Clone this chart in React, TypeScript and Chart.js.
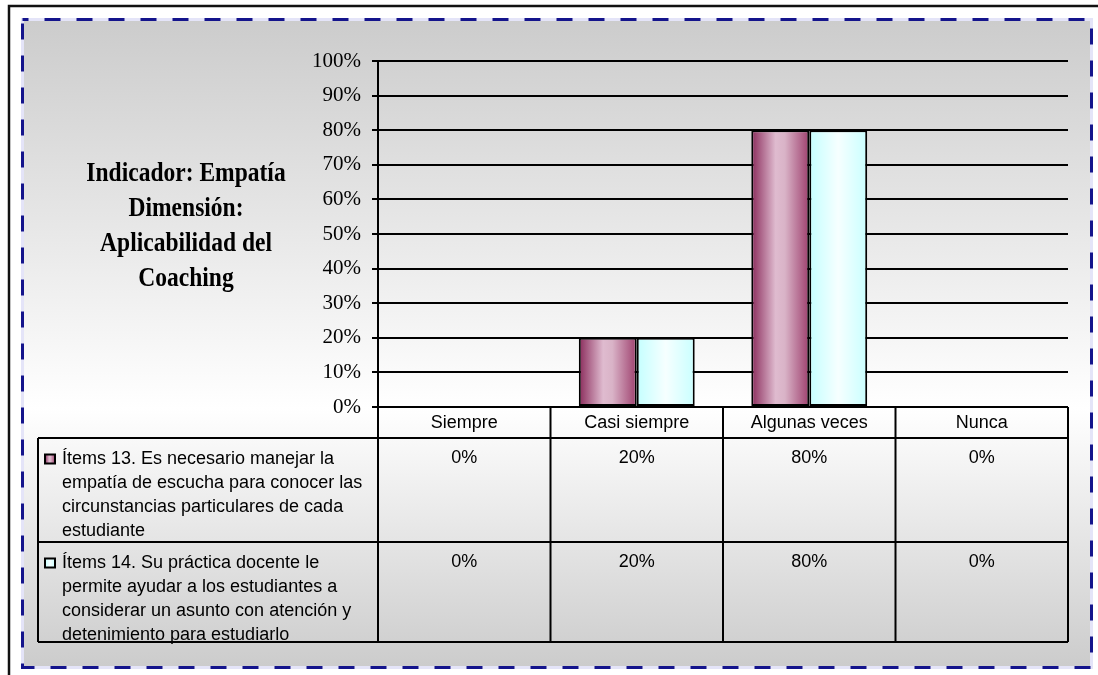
import React, { useEffect, useRef } from 'react';
import { Chart, registerables } from 'chart.js';

Chart.register(...registerables);

const categories = ['Siempre', 'Casi siempre', 'Algunas veces', 'Nunca'];
const item13Values = [0, 20, 80, 0];
const item14Values = [0, 20, 80, 0];
const seriesLabels = [
  'Ítems 13. Es necesario manejar la empatía de escucha para conocer las circunstancias particulares de cada estudiante',
  'Ítems 14. Su práctica docente le permite ayudar a los estudiantes a considerar un asunto con atención y detenimiento para estudiarlo',
];
const titleLines = ['Indicador: Empatía', 'Dimensión:', 'Aplicabilidad del', 'Coaching'];
const yMax = 100;
const yStep = 10;

const W = 1098;
const H = 675;
const SERIF = '"Liberation Serif", "Times New Roman", serif';
const SANS = '"Liberation Sans", Arial, sans-serif';
const CAT_PCT = 0.672;

function barGradient(ctx: CanvasRenderingContext2D, x0: number, x1: number, s: number) {
  const g = ctx.createLinearGradient(x0, 0, x1, 0);
  if (s === 0) {
    g.addColorStop(0, '#8a2b5b');
    g.addColorStop(0.42, '#dfbbcf');
    g.addColorStop(0.58, '#d9b3c7');
    g.addColorStop(1, '#9e406e');
  } else {
    g.addColorStop(0, '#c4ffff');
    g.addColorStop(0.5, '#f6ffff');
    g.addColorStop(1, '#c9ffff');
  }
  return g;
}

function barBg(s: number) {
  return (c: any) => {
    const fallback = s === 0 ? '#c07898' : '#e0ffff';
    const chart = c.chart;
    const xs = chart.scales && chart.scales.x;
    if (!xs || c.dataIndex === undefined) return fallback;
    const center = xs.getPixelForValue(c.dataIndex);
    const catW = xs.width / categories.length;
    if (!isFinite(center) || !isFinite(catW) || catW <= 0) return fallback;
    const bw = (catW * CAT_PCT) / 2;
    const x0 = s === 0 ? center - bw : center;
    return barGradient(chart.ctx, x0, x0 + bw, s);
  };
}

function wrap(ctx: CanvasRenderingContext2D, text: string, maxW: number) {
  const words = text.split(' ');
  const lines: string[] = [];
  let cur = '';
  for (const w of words) {
    const t = cur ? cur + ' ' + w : w;
    if (ctx.measureText(t).width > maxW && cur) {
      lines.push(cur);
      cur = w;
    } else cur = t;
  }
  if (cur) lines.push(cur);
  return lines;
}

const framePlugin = {
  id: 'frame',
  beforeDraw(chart: any) {
    const ctx: CanvasRenderingContext2D = chart.ctx;
    ctx.save();
    ctx.fillStyle = '#ffffff';
    ctx.fillRect(0, 0, W, H);
    ctx.strokeStyle = '#111111';
    ctx.lineWidth = 2.5;
    ctx.beginPath();
    ctx.moveTo(9, H + 5);
    ctx.lineTo(9, 6);
    ctx.lineTo(W + 5, 6);
    ctx.stroke();
    const g = ctx.createLinearGradient(0, 21, 0, 666);
    g.addColorStop(0, '#cccccc');
    g.addColorStop(0.6, '#ffffff');
    g.addColorStop(1, '#cccccc');
    ctx.fillStyle = g;
    ctx.fillRect(24, 21, 1066, 645);
    ctx.lineWidth = 3;
    ctx.strokeStyle = '#e4e4f8';
    ctx.strokeRect(22.5, 19.5, 1069, 648);
    ctx.setLineDash([16, 16]);
    ctx.lineDashOffset = 10;
    ctx.strokeStyle = '#14148c';
    ctx.strokeRect(22.5, 19.5, 1069, 648);
    ctx.restore();
  },
  afterDraw(chart: any) {
    const ctx: CanvasRenderingContext2D = chart.ctx;
    const xs = chart.scales.x;
    const area = chart.chartArea;
    const catW = xs.width / categories.length;
    const x0 = 38;
    const headerTop = area.bottom;
    const headerBottom = headerTop + 31;
    const row1Bottom = headerBottom + 104;
    const row2Bottom = row1Bottom + 100;
    const rowTops = [headerBottom, row1Bottom];
    ctx.save();
    ctx.strokeStyle = '#000';
    ctx.lineWidth = 2;
    ctx.beginPath();
    ctx.moveTo(area.left, headerTop);
    ctx.lineTo(area.right, headerTop);
    for (const y of [headerBottom, row1Bottom, row2Bottom]) {
      ctx.moveTo(x0, y);
      ctx.lineTo(area.right, y);
    }
    ctx.moveTo(x0, headerBottom);
    ctx.lineTo(x0, row2Bottom);
    for (let i = 0; i < categories.length; i++) {
      const bx = xs.getPixelForValue(i) - catW / 2;
      ctx.moveTo(bx, headerTop);
      ctx.lineTo(bx, row2Bottom);
    }
    ctx.moveTo(area.right, headerTop);
    ctx.lineTo(area.right, row2Bottom);
    ctx.stroke();

    ctx.fillStyle = '#000';
    ctx.font = '18px ' + SANS;
    ctx.textAlign = 'center';
    ctx.textBaseline = 'middle';
    categories.forEach((c, i) => {
      ctx.fillText(c, xs.getPixelForValue(i), headerTop + 16);
    });
    const series = [item13Values, item14Values];
    series.forEach((vals, s) => {
      vals.forEach((v, i) => {
        ctx.fillText(v + '%', xs.getPixelForValue(i), rowTops[s] + 20);
      });
    });
    ctx.textAlign = 'left';
    seriesLabels.forEach((lab, s) => {
      const lines = wrap(ctx, lab, 305);
      lines.forEach((ln, k) => {
        ctx.fillText(ln, 62, rowTops[s] + 21 + k * 24);
      });
      const mx = 45, my = rowTops[s] + 16.5, mw = 10, mh = 9;
      ctx.fillStyle = barGradient(ctx, mx, mx + mw, s);
      ctx.fillRect(mx, my, mw, mh);
      ctx.strokeStyle = '#000';
      ctx.lineWidth = 2;
      ctx.strokeRect(mx, my, mw, mh);
      ctx.fillStyle = '#000';
    });

    ctx.font = 'bold 28px ' + SERIF;
    ctx.textAlign = 'center';
    ctx.textBaseline = 'middle';
    titleLines.forEach((t, k) => {
      ctx.save();
      ctx.translate(186, 174 + k * 34.8);
      ctx.scale(0.84, 1);
      ctx.fillText(t, 0, 0);
      ctx.restore();
    });
    ctx.restore();
  },
};

export default function App() {
  const ref = useRef<HTMLCanvasElement | null>(null);
  useEffect(() => {
    if (!ref.current) return;
    const chart = new Chart(ref.current, {
      type: 'bar',
      data: {
        labels: categories,
        datasets: [
          {
            label: seriesLabels[0],
            data: item13Values,
            backgroundColor: barBg(0),
            borderColor: '#000',
            borderWidth: 2,
            borderSkipped: false,
          },
          {
            label: seriesLabels[1],
            data: item14Values,
            backgroundColor: barBg(1),
            borderColor: '#000',
            borderWidth: 2,
            borderSkipped: false,
          },
        ],
      },
      options: {
        responsive: false,
        animation: false,
        devicePixelRatio: 1,
        layout: { padding: { top: 61, right: 30, bottom: 268, left: 0 } },
        datasets: { bar: { categoryPercentage: CAT_PCT, barPercentage: 1 } },
        plugins: { legend: { display: false }, tooltip: { enabled: false }, title: { display: false } },
        scales: {
          x: { display: false },
          y: {
            min: 0,
            max: yMax,
            afterFit: (scale: any) => {
              scale.width = 378;
            },
            ticks: {
              stepSize: yStep,
              padding: 11,
              color: '#000',
              font: { family: SERIF, size: 21 },
              callback: (v: any) => v + '%',
            },
            grid: { color: '#000', lineWidth: 2, tickLength: 6, drawTicks: true },
            border: { color: '#000', width: 2 },
          },
        },
      },
      plugins: [framePlugin],
    });
    return () => chart.destroy();
  }, []);
  return (
    <div style={{ position: 'absolute', left: 0, top: 0, width: W, height: H }}>
      <canvas ref={ref} width={W} height={H} style={{ width: W, height: H, display: 'block' }} />
    </div>
  );
}
